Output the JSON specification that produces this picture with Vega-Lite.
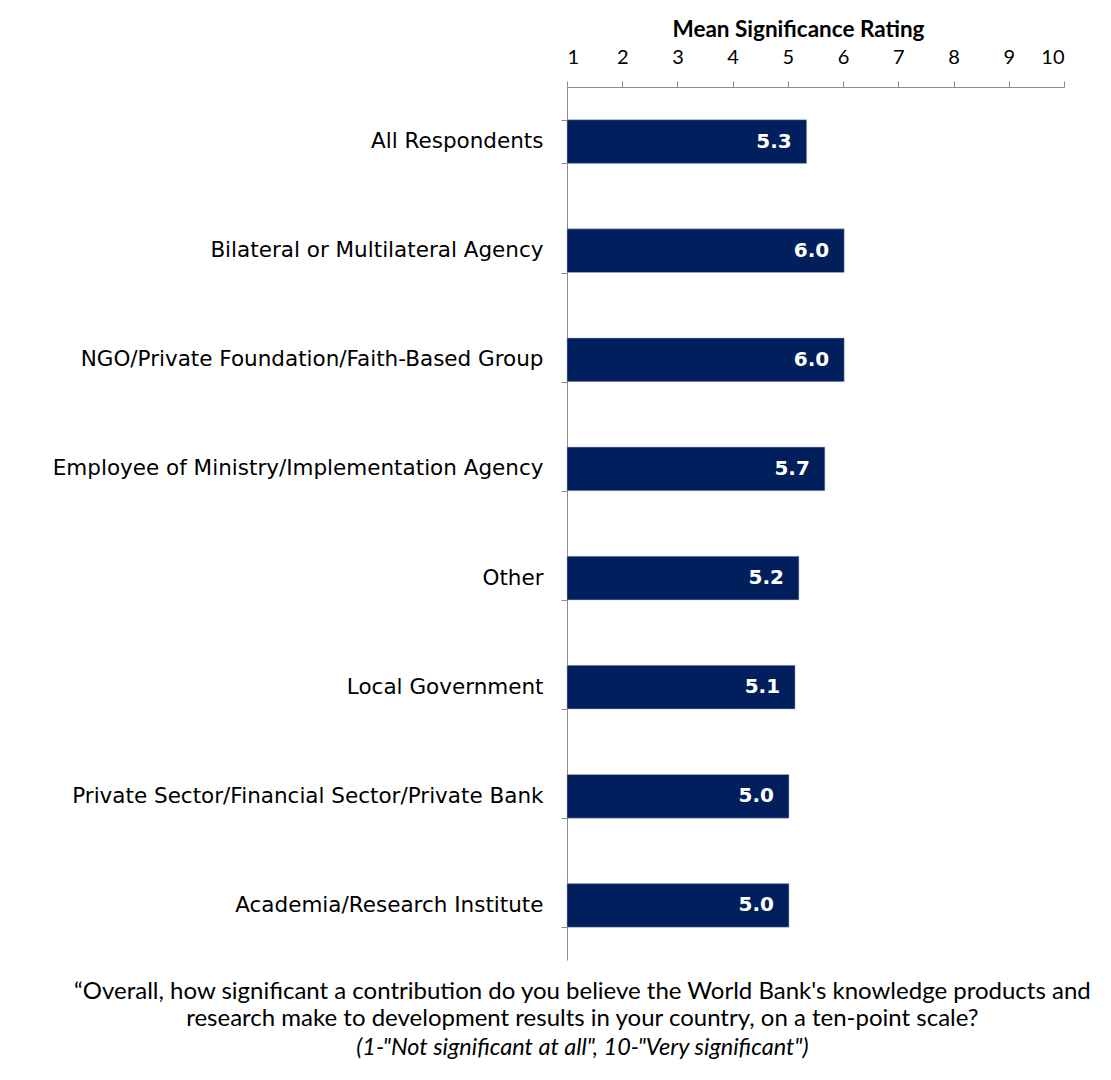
{
  "$schema": "https://vega.github.io/schema/vega-lite/v6.json",
  "width": 497,
  "height": 873,
  "autosize": "none",
  "padding": {"left": 567, "top": 87, "right": 47, "bottom": 120},
  "background": "white",
  "config": {"view": {"stroke": null}, "font": "Lato, sans-serif"},
  "title": {
    "text": ["\u201cOverall, how significant a contribution do you believe the World Bank's knowledge products and", "research make to development results in your country, on a ten-point scale?"],
    "subtitle": "(1-\"Not significant at all\", 10-\"Very significant\")",
    "orient": "bottom",
    "anchor": "middle",
    "frame": "bounds",
    "dx": 24,
    "offset": 20,
    "font": "Lato, sans-serif",
    "fontSize": 24,
    "fontWeight": "normal",
    "lineHeight": 27,
    "color": "#000",
    "subtitleFont": "Lato, sans-serif",
    "subtitleFontSize": 23.5,
    "subtitleFontStyle": "italic",
    "subtitleColor": "#000",
    "subtitlePadding": 5
  },
  "data": {
    "values": [
      {"group": "All Respondents", "rating": 5.34},
      {"group": "Bilateral or Multilateral Agency", "rating": 6.02},
      {"group": "NGO/Private Foundation/Faith-Based Group", "rating": 6.02},
      {"group": "Employee of Ministry/Implementation Agency", "rating": 5.67},
      {"group": "Other", "rating": 5.2},
      {"group": "Local Government", "rating": 5.13},
      {"group": "Private Sector/Financial Sector/Private Bank", "rating": 5.02},
      {"group": "Academia/Research Institute", "rating": 5.02}
    ]
  },
  "encoding": {
    "y": {
      "field": "group",
      "type": "nominal",
      "sort": null,
      "scale": {"paddingInner": 0.6, "paddingOuter": 0.3},
      "axis": {
        "title": null,
        "tickBand": "extent",
        "tickSize": 6,
        "tickColor": "#8c8c8c",
        "domainColor": "#8c8c8c",
        "labelPadding": 18,
        "labelFontSize": 21.5,
        "labelColor": "#000",
        "labelLimit": 560,
        "labelFont": "DejaVu Sans"
      }
    }
  },
  "layer": [
    {
      "mark": {"type": "bar", "color": "#001F5C", "stroke": "#b0b8c8", "strokeWidth": 0.5},
      "encoding": {
        "x": {
          "field": "rating",
          "type": "quantitative",
          "scale": {"domain": [1, 10], "nice": false, "zero": false},
          "axis": {
            "orient": "top",
            "title": "Mean Significance Rating",
            "titleX": 231,
            "titleAlign": "center",
            "titleFontSize": 22.5,
            "titleFontWeight": "bold",
            "titleColor": "#000",
            "titlePadding": 6,
            "titleFont": "Lato, sans-serif",
            "values": [1, 2, 3, 4, 5, 6, 7, 8, 9, 10],
            "format": "d",
            "grid": false,
            "tickSize": 6,
            "tickColor": "#8c8c8c",
            "domainColor": "#8c8c8c",
            "labelFontSize": 20,
            "labelColor": "#000",
            "labelPadding": 14,
            "labelFont": "Lato, sans-serif"
          }
        },
        "x2": {"datum": 1}
      }
    },
    {
      "mark": {"type": "text", "align": "right", "dx": -15, "color": "white", "fontWeight": "bold", "fontSize": 20, "font": "DejaVu Sans"},
      "encoding": {
        "x": {"field": "rating", "type": "quantitative"},
        "text": {"field": "rating", "type": "quantitative", "format": ".1f"}
      }
    }
  ]
}
